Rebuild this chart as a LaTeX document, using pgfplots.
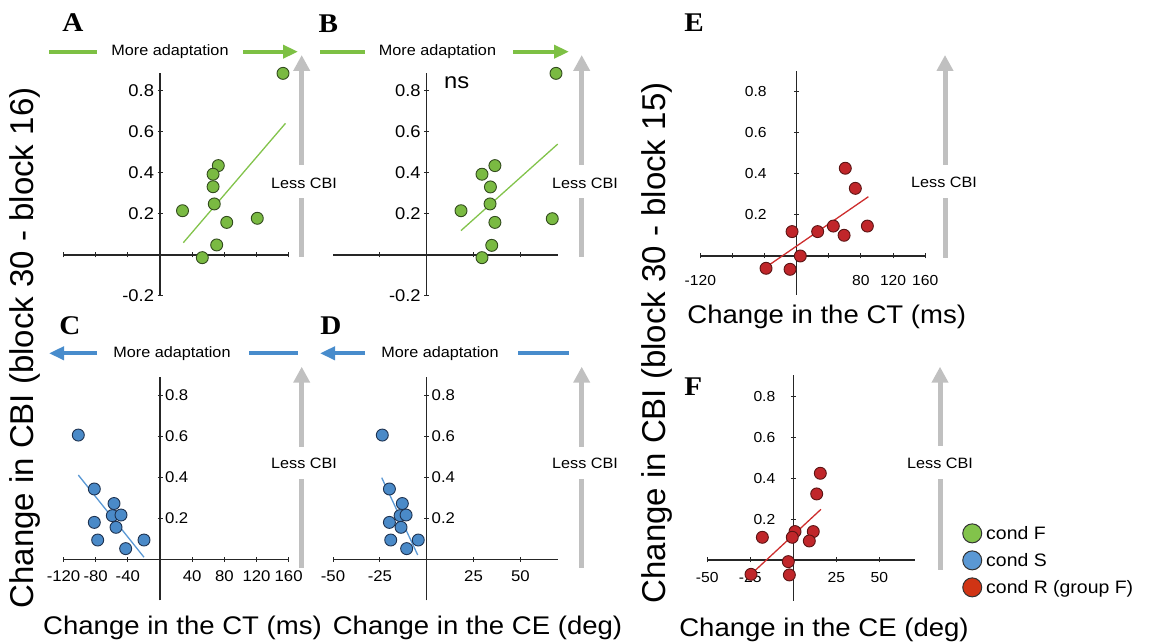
\documentclass[border=0pt]{standalone}
\usepackage{pgfplots}
\pgfplotsset{compat=1.18}
\usepackage{fontspec}
\setmainfont{Liberation Sans}[FakeStretch=1.08]
\newfontfamily\rotfont{Liberation Sans}
\newfontfamily\letterfont{Liberation Serif}[FakeStretch=1.08]
\usetikzlibrary{arrows.meta}

\definecolor{gfill}{RGB}{122,186,66}
\definecolor{gedge}{RGB}{50,75,30}
\definecolor{gline}{RGB}{130,195,75}
\definecolor{bfill}{RGB}{74,138,200}
\definecolor{bedge}{RGB}{30,50,80}
\definecolor{bline}{RGB}{90,152,212}
\definecolor{rfill}{RGB}{192,38,42}
\definecolor{redge}{RGB}{90,20,20}
\definecolor{rline}{RGB}{205,45,45}
\definecolor{arrgray}{RGB}{192,192,192}
\definecolor{arrgreen}{RGB}{125,192,68}
\definecolor{arrblue}{RGB}{72,140,204}
\definecolor{legred}{RGB}{208,52,20}

\newcommand{\fs}[1]{\fontsize{#1}{#1}\selectfont}

% grey "Less CBI" arrow: x, bottom, gap bottom, gap top, tip
\newcommand{\lesscbi}[5]{%
  \draw[arrgray, line width=5pt] (#1,#2) -- (#1,#3);
  \draw[arrgray, line width=5pt, -{Triangle[length=16pt,width=16pt]}] (#1,#4) -- (#1,#5);
}

\pgfplotsset{
  panel/.style={
    anchor=origin, clip=false,
    axis lines=middle,
    axis line style={-, line width=1.3pt, black!85},
    tick style={line width=1pt, black!85},
    major tick length=5pt,
    ticklabel style={font=\fs{15.5}},
  },
  dots/.style={only marks, mark=*, mark size=6pt, mark options={line width=0.9pt}},
  fitline/.style={no marks, line width=1.3pt},
}

\begin{document}
\begin{tikzpicture}[x=1pt,y=1pt]
\useasboundingbox (0,0) rectangle (1150,644);

% ---------- A ----------
\begin{axis}[panel, at={(160pt,389pt)}, x=0.804pt, y=205pt,
  xmin=-120, xmax=160, ymin=-0.2, ymax=0.89,
  xtick={-120,-80,-40,40,80,120,160}, xticklabel style={opacity=0},
  yticklabel style={font=\fs{17}},
  ytick={-0.2,0.2,0.4,0.6,0.8}, yticklabels={-0.2,0.2,0.4,0.6,0.8}]
\addplot[fitline, gline] coordinates {(29,0.06) (156,0.642)};
\addplot[dots, draw=gedge, fill=gfill] coordinates {
 (153,0.886) (28,0.216) (72.5,0.436) (66,0.394) (66,0.333)
 (67.5,0.249) (83,0.159) (121,0.179) (70.5,0.049) (52.6,-0.013)};
\end{axis}

% ---------- B ----------
\begin{axis}[panel, at={(426.7pt,389pt)}, x=1.874pt, y=205pt,
  xmin=-50, xmax=70.2, ymin=-0.2, ymax=0.89,
  xtick={-25,25,50}, xticklabel style={opacity=0},
  yticklabel style={font=\fs{17}},
  ytick={-0.2,0.2,0.4,0.6,0.8}, yticklabels={-0.2,0.2,0.4,0.6,0.8}]
\addplot[fitline, gline] coordinates {(18.3,0.119) (69.9,0.541)};
\addplot[dots, draw=gedge, fill=gfill] coordinates {
 (69,0.886) (18.3,0.216) (36.4,0.436) (29.5,0.394) (34,0.332)
 (33.8,0.249) (36.4,0.159) (67,0.177) (34.7,0.047) (29.5,-0.013)};
\end{axis}

% ---------- C ----------
\begin{axis}[panel, at={(160pt,84.7pt)}, x=0.804pt, y=205pt,
  xmin=-120, xmax=160, ymin=-0.2, ymax=0.89,
  xtick={-120,-80,-40,40,80,120,160}, xticklabels={-120,-80,-40,40,80,120,160},
  xticklabel style={yshift=-5pt},
  ytick={0.2,0.4,0.6,0.8}, yticklabels={0.2,0.4,0.6,0.8},
  yticklabel style={anchor=west, xshift=4pt}]
\addplot[fitline, bline] coordinates {(-101.6,0.411) (-19.9,0.010)};
\addplot[dots, draw=bedge, fill=bfill] coordinates {
 (-101.6,0.606) (-81.7,0.343) (-57.2,0.272) (-59.3,0.213) (-48.5,0.216)
 (-81.7,0.180) (-54.7,0.156) (-77.5,0.094) (-19.9,0.094) (-42.7,0.052)};
\end{axis}

% ---------- D ----------
\begin{axis}[panel, at={(426.7pt,84.7pt)}, x=1.874pt, y=205pt,
  xmin=-50, xmax=70.2, ymin=-0.2, ymax=0.89,
  xtick={-50,-25,25,50}, xticklabels={-50,-25,25,50},
  xticklabel style={yshift=-5pt},
  ytick={0.2,0.4,0.6,0.8}, yticklabels={0.2,0.4,0.6,0.8},
  yticklabel style={anchor=west, xshift=4pt}]
\addplot[fitline, bline] coordinates {(-24.0,0.398) (-4.8,0.021)};
\addplot[dots, draw=bedge, fill=bfill] coordinates {
 (-23.7,0.606) (-19.9,0.343) (-13.0,0.272) (-14.2,0.213) (-11.0,0.216)
 (-19.9,0.180) (-13.7,0.156) (-19.2,0.094) (-4.5,0.094) (-10.7,0.052)};
\end{axis}

% ---------- E ----------
\begin{axis}[panel, at={(796.7pt,388pt)}, x=0.803pt, y=205pt,
  xmin=-120, xmax=160, ymin=-0.19, ymax=0.9,
  ticklabel style={font=\fs{14.5}},
  xtick={-120,-80,-40,40,80,120,160}, xticklabels={-120,,,,80,120,160},
  xticklabel style={yshift=-13pt},
  ytick={0.2,0.4,0.6,0.8}, yticklabels={0.2,0.4,0.6,0.8},
  yticklabel style={xshift=-24pt}]
\addplot[fitline, rline] coordinates {(-37.4,-0.052) (89.2,0.289)};
\addplot[dots, draw=redge, fill=rfill] coordinates {
 (60.5,0.428) (73,0.330) (88,0.146) (45.6,0.146) (26.1,0.119)
 (59,0.101) (-5.8,0.119) (4.5,0.0) (-38.2,-0.060) (-8.3,-0.065)};
\end{axis}

% ---------- F ----------
\begin{axis}[panel, at={(793.3pt,84pt)}, x=1.72pt, y=204.5pt,
  xmin=-50, xmax=70.7, ymin=-0.2, ymax=0.905,
  ticklabel style={font=\fs{14.5}},
  xtick={-50,-25,25,50}, xticklabels={-50,-25,25,50},
  xticklabel style={yshift=-6pt},
  ytick={0.2,0.4,0.6,0.8}, yticklabels={0.2,0.4,0.6,0.8},
  yticklabel style={xshift=-12pt},
  legend image code/.code={\draw[#1, line width=1pt] (9.5pt,0pt) circle (9.5pt);},
  legend style={at={(1.227,0.344)}, anchor=north west, draw=none, fill=none,
    inner sep=0pt, font=\fs{18}, row sep=7pt, column sep=3pt,
    nodes={inner sep=1pt}},
  legend cell align=left]
\addlegendimage{draw=black!80, fill=gline}
\addlegendimage{draw=black!80, fill=bline}
\addlegendimage{draw=black!80, fill=legred}
\addplot[fitline, rline] coordinates {(-22.3,-0.052) (16.1,0.248)};
\addplot[dots, draw=redge, fill=rfill] coordinates {
 (15.7,0.424) (13.6,0.323) (11.6,0.139) (9.3,0.093) (1.0,0.139)
 (-0.6,0.111) (-18.0,0.111) (-2.9,-0.008) (-2.3,-0.073) (-24.6,-0.070)};
\legend{cond F, cond S, cond R (group F)}
\end{axis}

% ---------- annotations ----------
% green "More adaptation" arrows
\foreach \a/\b/\t/\c/\d in {49/97/170/243/298, 320/365/437.5/513/569}{
  \draw[arrgreen, line width=4pt] (\a,592.3) -- (\b,592.3);
  \node[font=\fs{15}] at (\t,592.3) {More adaptation};
  \draw[arrgreen, line width=4pt, -{Triangle[length=15pt,width=13pt]}] (\c,592.3) -- (\d,592.3);
}
% blue "More adaptation" arrows
\foreach \a/\b/\t/\c/\d in {97/49/172/249/298, 365/320/440/518/569}{
  \draw[arrblue, line width=4pt, -{Triangle[length=15pt,width=13pt]}] (\a,290.7) -- (\b,290.7);
  \node[font=\fs{15}] at (\t,290.7) {More adaptation};
  \draw[arrblue, line width=4pt] (\c,290.7) -- (\d,290.7);
}
% grey "Less CBI" arrows
\lesscbi{301.7}{387}{446}{479}{589}
\node[font=\fs{15}] at (304,461) {Less CBI};
\lesscbi{581.7}{387}{446}{479}{589}
\node[font=\fs{15}] at (585,461) {Less CBI};
\lesscbi{301.7}{76}{164.7}{197.3}{277.3}
\node[font=\fs{15}] at (304,181) {Less CBI};
\lesscbi{581.7}{76}{164.7}{197.3}{277.3}
\node[font=\fs{15}] at (585,181) {Less CBI};
\lesscbi{945}{386}{446}{479}{589}
\node[font=\fs{15}] at (944,461.3) {Less CBI};
\lesscbi{940}{74}{164.7}{198}{277.3}
\node[font=\fs{15}] at (940,180.7) {Less CBI};

\node[font=\fs{22}] at (456.7,561) {ns};

% panel letters
\foreach \l/\px/\py in {A/72.8/621.5, B/328.3/620.7, C/70/318, D/331/318, E/694/621, F/693.3/257.3}
  \node[font=\letterfont\bfseries\fs{27}] at (\px,\py) {\l};

% axis titles
\node[font=\fs{25.5}] at (182.5,16) {Change in the CT (ms)};
\node[font=\fs{25.5}] at (477.5,16) {Change in the CE (deg)};
\node[font=\fs{25.5}] at (826.7,327) {Change in the CT (ms)};
\node[font=\fs{25.5}] at (824,14) {Change in the CE (deg)};
\node[font=\rotfont\fs{33}, rotate=90] at (25,296) {Change in CBI (block 30 - block 16)};
\node[font=\rotfont\fs{33}, rotate=90] at (656.7,301) {Change in CBI (block 30 - block 15)};
\end{tikzpicture}
\end{document}
